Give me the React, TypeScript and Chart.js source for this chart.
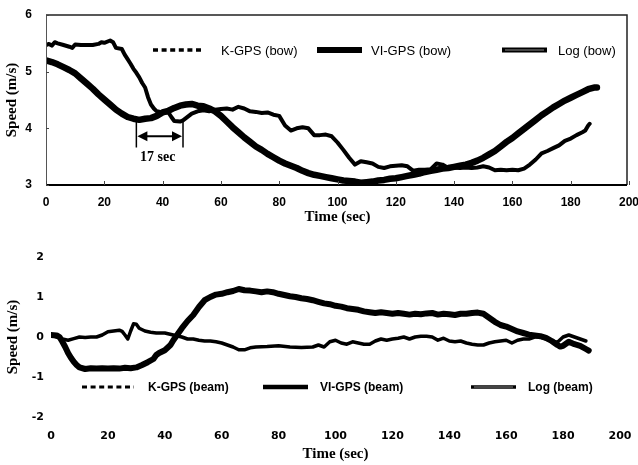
import React, { useEffect, useRef } from "react";
import { Chart, registerables } from "chart.js";
Chart.register(...registerables);

// ---------- Top chart (bow) ----------
const bowViT = [0, 2, 4, 6, 8, 10, 12, 14, 16, 18, 20, 22, 24, 26, 28, 30, 32, 34, 36, 38, 40, 42, 44, 46, 48, 50, 52, 54, 56, 58, 60, 62, 64, 66, 68, 70, 72, 74, 76, 78, 80, 82, 84, 86, 88, 90, 92, 94, 96, 98, 100, 102, 104, 106, 108, 110, 112, 114, 116, 118, 120, 122, 124, 126, 128, 130, 132, 134, 136, 138, 140, 142, 144, 146, 148, 150, 152, 154, 156, 158, 160, 162, 164, 166, 168, 170, 172, 174, 176, 178, 180, 182, 184, 186, 188, 189];
const bowViV = [5.2, 5.17, 5.13, 5.08, 5.03, 4.97, 4.88, 4.79, 4.7, 4.6, 4.51, 4.42, 4.33, 4.26, 4.2, 4.17, 4.15, 4.17, 4.18, 4.22, 4.28, 4.31, 4.36, 4.4, 4.42, 4.43, 4.4, 4.39, 4.35, 4.3, 4.22, 4.12, 4.02, 3.93, 3.84, 3.76, 3.68, 3.62, 3.55, 3.49, 3.43, 3.38, 3.34, 3.3, 3.25, 3.21, 3.18, 3.16, 3.14, 3.12, 3.1, 3.08, 3.07, 3.06, 3.04, 3.05, 3.06, 3.08, 3.09, 3.11, 3.12, 3.14, 3.16, 3.18, 3.2, 3.23, 3.25, 3.27, 3.29, 3.3, 3.32, 3.34, 3.36, 3.39, 3.43, 3.48, 3.54, 3.6, 3.68, 3.76, 3.83, 3.91, 3.99, 4.07, 4.15, 4.23, 4.3, 4.37, 4.43, 4.49, 4.54, 4.59, 4.64, 4.69, 4.72, 4.72];
const bowLogT = [0, 1, 2, 3, 4, 6, 8, 9, 10, 12, 14, 16, 18, 19, 20, 22, 23, 24, 26, 27, 28, 29, 30, 31, 32, 33, 34, 35, 36, 37, 38, 40, 42, 43, 44, 46, 47, 48, 50, 52, 54, 56, 58, 60, 62, 64, 66, 68, 70, 72, 74, 76, 78, 80, 82, 84, 86, 88, 90, 92, 94, 96, 98, 100, 102, 104, 106, 108, 110, 112, 114, 116, 118, 120, 122, 124, 126, 128, 130, 132, 134, 136, 138, 140, 142, 144, 146, 148, 150, 152, 154, 156, 158, 160, 162, 164, 166, 168, 170, 172, 174, 176, 178, 180, 182, 184, 185, 186, 186.5];
const bowLogV = [5.47, 5.49, 5.46, 5.52, 5.5, 5.47, 5.44, 5.42, 5.48, 5.47, 5.47, 5.47, 5.49, 5.52, 5.51, 5.55, 5.52, 5.42, 5.4, 5.3, 5.22, 5.14, 5.05, 4.98, 4.9, 4.8, 4.72, 4.55, 4.42, 4.35, 4.3, 4.28, 4.28, 4.2, 4.13, 4.12, 4.14, 4.18, 4.26, 4.3, 4.32, 4.3, 4.33, 4.34, 4.35, 4.33, 4.38, 4.35, 4.3, 4.29, 4.27, 4.28, 4.24, 4.22, 4.05, 3.96, 4.0, 4.02, 4.0, 3.88, 3.88, 3.89, 3.86, 3.75, 3.62, 3.48, 3.36, 3.42, 3.4, 3.38, 3.32, 3.3, 3.33, 3.34, 3.35, 3.33, 3.25, 3.27, 3.27, 3.28, 3.38, 3.36, 3.3, 3.31, 3.3, 3.31, 3.3, 3.31, 3.33, 3.31, 3.26, 3.27, 3.26, 3.27, 3.26, 3.29, 3.36, 3.45, 3.56, 3.6, 3.65, 3.7, 3.78, 3.82, 3.88, 3.93, 3.96, 4.05, 4.08];
// K-GPS (bow) lies under the VI-GPS trace in the picture
const bowKT = bowViT;
const bowKV = bowViV;

const bowLabels = ["K-GPS (bow)", "VI-GPS (bow)", "Log (bow)"];
const lagStart = 31;
const lagEnd = 47;
const lagText = "17 sec";

// ---------- Bottom chart (beam) ----------
const beamViT = [0, 2, 3, 4, 5, 6, 7, 8, 9, 10, 12, 14, 16, 18, 20, 22, 24, 26, 28, 30, 32, 34, 36, 37, 38, 40, 42, 43, 44, 46, 48, 50, 52, 54, 56, 58, 60, 62, 64, 66, 68, 70, 72, 74, 76, 78, 80, 82, 84, 86, 88, 90, 92, 94, 96, 98, 100, 102, 104, 106, 108, 110, 112, 114, 116, 118, 120, 122, 124, 126, 128, 130, 132, 134, 136, 138, 140, 142, 144, 146, 148, 150, 152, 154, 156, 158, 160, 162, 164, 166, 168, 170, 172, 174, 176, 178, 179, 180, 182, 184, 186, 188, 189];
const beamViV = [0.05, 0.04, 0.0, -0.12, -0.25, -0.4, -0.52, -0.62, -0.7, -0.76, -0.8, -0.78, -0.79, -0.78, -0.79, -0.78, -0.79, -0.77, -0.78, -0.76, -0.7, -0.63, -0.55, -0.45, -0.4, -0.33, -0.2, -0.08, 0.02, 0.22, 0.4, 0.55, 0.75, 0.92, 1.0, 1.06, 1.08, 1.12, 1.15, 1.2, 1.17, 1.16, 1.14, 1.12, 1.14, 1.12, 1.08, 1.05, 1.02, 1.0, 0.97, 0.95, 0.92, 0.88, 0.84, 0.82, 0.78, 0.76, 0.72, 0.7, 0.68, 0.64, 0.62, 0.6, 0.62, 0.6, 0.58, 0.6, 0.58, 0.56, 0.58, 0.57, 0.59, 0.6, 0.56, 0.58, 0.57, 0.55, 0.58, 0.58, 0.6, 0.61, 0.58, 0.48, 0.38, 0.3, 0.26, 0.2, 0.14, 0.1, 0.06, 0.04, 0.02, -0.02, -0.1, -0.2, -0.24, -0.22, -0.12, -0.18, -0.22, -0.3, -0.34];
const beamLogT = [0, 2, 4, 6, 8, 10, 12, 14, 16, 18, 20, 22, 24, 25, 26, 27, 28, 29, 30, 31, 33, 35, 37, 40, 43, 46, 48, 50, 52, 54, 56, 58, 60, 62, 64, 66, 68, 70, 72, 76, 80, 84, 88, 92, 94, 96, 98, 100, 102, 104, 106, 108, 110, 112, 114, 116, 118, 120, 122, 124, 126, 128, 130, 132, 134, 136, 138, 140, 142, 144, 146, 148, 150, 152, 154, 156, 158, 160, 162, 164, 166, 168, 170, 172, 174, 176, 178, 180, 182, 184, 186, 188];
const beamLogV = [0.05, 0.0, -0.05, -0.08, -0.04, 0.0, -0.01, 0.0, 0.0, 0.05, 0.13, 0.15, 0.17, 0.14, 0.05, -0.05, 0.15, 0.33, 0.32, 0.22, 0.15, 0.12, 0.1, 0.1, 0.05, 0.0, -0.05, -0.05, -0.08, -0.1, -0.1, -0.12, -0.15, -0.2, -0.25, -0.32, -0.32, -0.27, -0.25, -0.24, -0.22, -0.25, -0.26, -0.25, -0.2, -0.25, -0.12, -0.08, -0.15, -0.18, -0.12, -0.15, -0.18, -0.18, -0.1, -0.05, -0.08, -0.05, -0.03, 0.0, -0.05, 0.0, 0.02, 0.02, 0.0, -0.08, -0.03, -0.1, -0.12, -0.1, -0.15, -0.18, -0.2, -0.2, -0.15, -0.12, -0.1, -0.08, -0.15, -0.08, -0.05, -0.05, 0.0, 0.0, -0.05, -0.1, -0.13, 0.0, 0.05, 0.0, -0.05, -0.1];
const beamKT = beamViT;
const beamKV = beamViV;

const beamLabels = ["K-GPS (beam)", "VI-GPS (beam)", "Log (beam)"];

const xTicksMin = 0;
const xTicksMax = 200;
const xStep = 20;

const pts = (t: number[], v: number[]) => t.map((x, i) => ({ x, y: v[i] }));

type LegendItem = { x0: number; x1: number; tx: number; text: string; kind: "dash" | "thick" | "log"; };

function drawLegend(ctx: CanvasRenderingContext2D, items: LegendItem[], y: number, font: string, thick: number, logW: number, dashW: number) {
  ctx.save();
  for (const it of items) {
    ctx.strokeStyle = "#000";
    ctx.lineCap = "butt";
    if (it.kind === "dash") {
      ctx.lineWidth = dashW;
      ctx.setLineDash([5, 3.6]);
    } else if (it.kind === "thick") {
      ctx.lineWidth = thick;
      ctx.setLineDash([]);
    } else {
      ctx.lineWidth = logW;
      ctx.setLineDash([]);
    }
    ctx.beginPath();
    ctx.moveTo(it.x0, y);
    ctx.lineTo(it.x1, y);
    ctx.stroke();
    if (it.kind === "log") {
      ctx.strokeStyle = "#8a8a8a";
      ctx.lineWidth = 1;
      ctx.beginPath();
      ctx.moveTo(it.x0 + 3, y);
      ctx.lineTo(it.x1 - 3, y);
      ctx.stroke();
    }
    ctx.setLineDash([]);
    ctx.fillStyle = "#000";
    ctx.font = font;
    ctx.textBaseline = "middle";
    ctx.textAlign = "left";
    ctx.fillText(it.text, it.tx, y + 1);
  }
  ctx.restore();
}

function TopChart() {
  const ref = useRef<HTMLCanvasElement>(null);
  useEffect(() => {
    const topPlugin = {
      id: "topDeco",
      afterDraw(chart: any) {
        const { ctx, chartArea: a, scales } = chart;
        const xs = scales.x, ys = scales.y;
        ctx.save();
        // frame
        ctx.strokeStyle = "#555";
        ctx.lineWidth = 1;
        ctx.beginPath(); ctx.moveTo(a.left + 0.5, a.top); ctx.lineTo(a.left + 0.5, a.bottom); ctx.stroke();
        ctx.strokeStyle = "#222";
        ctx.lineWidth = 1.5;
        ctx.beginPath(); ctx.moveTo(a.left, a.top); ctx.lineTo(a.right - 2, a.top); ctx.lineTo(a.right - 2, a.bottom); ctx.stroke();
        ctx.strokeStyle = "#000";
        ctx.lineWidth = 2;
        ctx.beginPath(); ctx.moveTo(a.left, a.bottom); ctx.lineTo(a.right - 2, a.bottom); ctx.stroke();
        // inward ticks
        ctx.lineWidth = 1;
        ctx.strokeStyle = "#444";
        for (const t of xs.ticks) {
          const px = Math.round(xs.getPixelForValue(t.value)) + 0.5;
          ctx.beginPath(); ctx.moveTo(px, a.bottom); ctx.lineTo(px, a.bottom - 4); ctx.stroke();
        }
        for (const t of ys.ticks) {
          const py = Math.round(ys.getPixelForValue(t.value)) + 0.5;
          ctx.beginPath(); ctx.moveTo(a.left, py); ctx.lineTo(a.left + 3, py); ctx.stroke();
        }
        // lag annotation
        const x1 = xs.getPixelForValue(lagStart), x2 = xs.getPixelForValue(lagEnd);
        const yT = ys.getPixelForValue(4.13), yB = ys.getPixelForValue(3.66), yA = ys.getPixelForValue(3.86);
        ctx.strokeStyle = "#000";
        ctx.lineWidth = 1.5;
        ctx.beginPath();
        ctx.moveTo(x1, yT); ctx.lineTo(x1, yB);
        ctx.moveTo(x2, yT); ctx.lineTo(x2, yB);
        ctx.stroke();
        ctx.lineWidth = 2;
        ctx.beginPath(); ctx.moveTo(x1 + 6, yA); ctx.lineTo(x2 - 6, yA); ctx.stroke();
        ctx.fillStyle = "#000";
        ctx.beginPath(); ctx.moveTo(x1 + 1, yA); ctx.lineTo(x1 + 11, yA - 5); ctx.lineTo(x1 + 11, yA + 5); ctx.closePath(); ctx.fill();
        ctx.beginPath(); ctx.moveTo(x2 - 1, yA); ctx.lineTo(x2 - 11, yA - 5); ctx.lineTo(x2 - 11, yA + 5); ctx.closePath(); ctx.fill();
        ctx.font = "bold 14px 'Liberation Serif', serif";
        ctx.textAlign = "center";
        ctx.textBaseline = "middle";
        ctx.fillText(lagText, (x1 + x2) / 2 - 2, ys.getPixelForValue(3.48));
        ctx.restore();
        drawLegend(ctx, [
          { x0: 153, x1: 204, tx: 221, text: bowLabels[0], kind: "dash" },
          { x0: 317, x1: 362, tx: 371, text: bowLabels[1], kind: "thick" },
          { x0: 502, x1: 547, tx: 558, text: bowLabels[2], kind: "log" },
        ], 50, "13px 'Liberation Sans', 'Noto Sans CJK JP', sans-serif", 6, 5, 3.5);
      },
    };
    const chart = new Chart(ref.current!, {
      type: "line",
      data: {
        datasets: [
          { label: bowLabels[1], data: pts(bowViT, bowViV), borderColor: "#000", borderWidth: 6.5, pointRadius: 0, borderJoinStyle: "round", borderCapStyle: "round" },
          { label: bowLabels[2], data: pts(bowLogT, bowLogV), borderColor: "#000", borderWidth: 4, pointRadius: 0, borderJoinStyle: "round", borderCapStyle: "round" },
          { label: bowLabels[0], data: pts(bowKT, bowKV), borderColor: "#000", borderWidth: 2, borderDash: [5, 3], pointRadius: 0 },
        ],
      },
      options: {
        responsive: false,
        animation: false,
        layout: { padding: { left: 0, right: 9, top: 15, bottom: 0 } },
        plugins: { legend: { display: false }, tooltip: { enabled: false } },
        scales: {
          x: {
            type: "linear", min: xTicksMin, max: xTicksMax,
            ticks: { stepSize: xStep, color: "#000", padding: 10, maxRotation: 0, font: { family: "'Liberation Sans', Arial, sans-serif", size: 12, weight: "bold" } },
            grid: { display: false, drawTicks: false },
            border: { display: false },
            title: { display: true, text: "Time (sec)", color: "#000", padding: { top: 0, bottom: 2 }, font: { family: "'Liberation Serif', serif", size: 15, weight: "bold" } },
            afterFit: (s: any) => { s.height = 43; s.paddingRight = 0; s.paddingLeft = 0; },
          },
          y: {
            min: 3, max: 6,
            ticks: { stepSize: 1, color: "#000", padding: 14, font: { family: "'Liberation Sans', Arial, sans-serif", size: 12, weight: "bold" } },
            grid: { display: false, drawTicks: false },
            border: { display: false },
            title: { display: true, text: "Speed (m/s)", color: "#000", padding: { top: 3, bottom: 0 }, font: { family: "'Liberation Serif', serif", size: 15, weight: "bold" } },
            afterFit: (s: any) => { s.width = 46; s.paddingTop = 0; s.paddingBottom = 0; },
          },
        },
      },
      plugins: [topPlugin],
    } as any);
    return () => chart.destroy();
  }, []);
  return <canvas ref={ref} width={638} height={228} style={{ position: "absolute", left: 0, top: 0, width: 638, height: 228 }} />;
}

function BottomChart() {
  const ref = useRef<HTMLCanvasElement>(null);
  useEffect(() => {
    const botPlugin = {
      id: "botDeco",
      afterDraw(chart: any) {
        drawLegend(chart.ctx, [
          { x0: 82, x1: 134, tx: 148, text: beamLabels[0], kind: "dash" },
          { x0: 263, x1: 308, tx: 320, text: beamLabels[1], kind: "thick" },
          { x0: 471, x1: 516, tx: 528, text: beamLabels[2], kind: "log" },
        ], 159, "bold 12px 'Liberation Sans', Arial, sans-serif", 4.5, 3.5, 3);
      },
    };
    const chart = new Chart(ref.current!, {
      type: "line",
      data: {
        datasets: [
          { label: beamLabels[1], data: pts(beamViT, beamViV), borderColor: "#000", borderWidth: 6, pointRadius: 0, borderJoinStyle: "round", borderCapStyle: "round" },
          { label: beamLabels[2], data: pts(beamLogT, beamLogV), borderColor: "#000", borderWidth: 3.5, pointRadius: 0, borderJoinStyle: "round", borderCapStyle: "round" },
          { label: beamLabels[0], data: pts(beamKT, beamKV), borderColor: "#000", borderWidth: 2, borderDash: [5, 3], pointRadius: 0 },
        ],
      },
      options: {
        responsive: false,
        animation: false,
        layout: { padding: { left: 0, right: 18, top: 29, bottom: 0 } },
        plugins: { legend: { display: false }, tooltip: { enabled: false } },
        scales: {
          x: {
            type: "linear", min: xTicksMin, max: xTicksMax,
            ticks: { stepSize: xStep, color: "#000", padding: 13, maxRotation: 0, font: { family: "'DejaVu Sans', Verdana, sans-serif", size: 11, weight: "bold" } },
            grid: { display: false, drawTicks: false },
            border: { display: false },
            title: { display: true, text: "Time (sec)", color: "#000", padding: { top: 0, bottom: 2 }, font: { family: "'Liberation Serif', serif", size: 15, weight: "bold" } },
            afterFit: (s: any) => { s.height = 48; s.paddingRight = 0; s.paddingLeft = 0; },
          },
          y: {
            min: -2, max: 2,
            ticks: { stepSize: 1, color: "#000", padding: 7, font: { family: "'DejaVu Sans', Verdana, sans-serif", size: 11, weight: "bold" } },
            grid: { display: false, drawTicks: false },
            border: { display: false },
            title: { display: true, text: "Speed (m/s)", color: "#000", padding: { top: 4, bottom: 0 }, font: { family: "'Liberation Serif', serif", size: 15, weight: "bold" } },
            afterFit: (s: any) => { s.width = 51; s.paddingTop = 0; s.paddingBottom = 0; },
          },
        },
      },
      plugins: [botPlugin],
    } as any);
    return () => chart.destroy();
  }, []);
  return <canvas ref={ref} width={638} height={237} style={{ position: "absolute", left: 0, top: 228, width: 638, height: 237 }} />;
}

export default function App() {
  return (
    <div style={{ position: "absolute", left: 0, top: 0, width: 638, height: 465, background: "#fff" }}>
      <TopChart />
      <BottomChart />
    </div>
  );
}
